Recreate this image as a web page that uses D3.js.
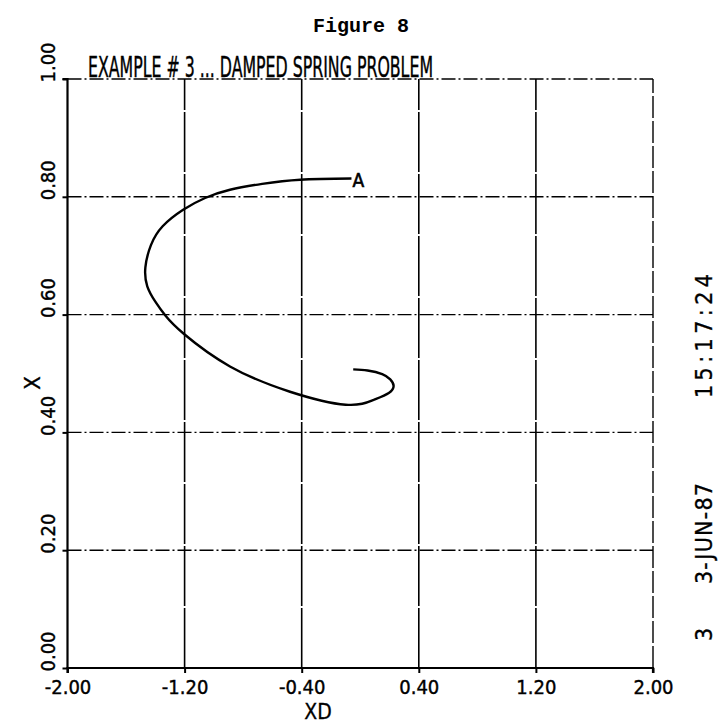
<!DOCTYPE html>
<html>
<head>
<meta charset="utf-8">
<script src="https://cdn.jsdelivr.net/npm/d3@7"></script>
<style>
  body { margin: 0; background: #fff; }
  text { fill: #000; }
</style>
</head>
<body>
<div id="chart"></div>
<script>
const width = 719;
const height = 725;

// ticks on both axes
const xdTicks = [-2.0, -1.2, -0.4, 0.4, 1.2, 2.0];
const xdTickLabels = ["-2.00", "-1.20", "-0.40", "0.40", "1.20", "2.00"];
const xTicks = [0.0, 0.2, 0.4, 0.6, 0.8, 1.0];
const xTickLabels = ["0.00", "0.20", "0.40", "0.60", "0.80", "1.00"];

// phase path: XD (velocity), X (position), starting at A
const pathXD = [-0.06, -0.41, -0.67, -0.89, -1.06, -1.21, -1.35, -1.43, -1.468, -1.455, -1.40, -1.33, -1.204, -0.89, -0.48, -0.10, 0.09, 0.195, 0.228, 0.205, 0.15, 0.05, -0.048];
const pathX  = [0.831, 0.829, 0.822, 0.812, 0.798, 0.778, 0.750, 0.718, 0.680, 0.648, 0.622, 0.598, 0.567, 0.512, 0.469, 0.447, 0.455, 0.467, 0.479, 0.490, 0.499, 0.505, 0.507];

const title = "EXAMPLE # 3 ... DAMPED SPRING PROBLEM";
const stamp = ["3", "3-JUN-87", "15:17:24"];

const x = d3.scaleLinear().domain([-2, 2]).range([67.5, 653]);
const y = d3.scaleLinear().domain([0, 1]).range([668, 79]);

const svg = d3.select("#chart").append("svg")
  .attr("width", width)
  .attr("height", height);

const plotFont = "'DejaVu Sans Condensed', 'DejaVu Sans', sans-serif";

// pen-plotter look: a hairline stroke on the glyphs
function pen(sel, w) {
  sel.style("font-family", plotFont)
    .attr("stroke", "#000")
    .attr("stroke-width", w);
}

svg.append("text")
  .attr("x", 361).attr("y", 32)
  .attr("text-anchor", "middle")
  .style("font-family", "'Liberation Mono', 'DejaVu Sans Mono', monospace")
  .style("font-weight", "bold")
  .style("font-size", "20px")
  .text("Figure 8");

svg.append("text")
  .attr("x", 88).attr("y", 77)
  .attr("textLength", 345)
  .attr("lengthAdjust", "spacingAndGlyphs")
  .style("font-size", "28px")
  .call(pen, 0.4)
  .text(title);

// grid: horizontal dash-dot, vertical nearly solid
const grid = svg.append("g").attr("stroke", "#000").attr("fill", "none");
grid.selectAll("line.h")
  .data(xTicks.slice(1))
  .enter().append("line")
    .attr("class", "h")
    .attr("x1", x(-2)).attr("x2", x(2))
    .attr("y1", d => y(d)).attr("y2", d => y(d))
    .attr("stroke-width", 1.4)
    .attr("stroke-dasharray", "14 3 2 3");
grid.selectAll("line.v")
  .data(xdTicks.slice(1, -1))
  .enter().append("line")
    .attr("class", "v")
    .attr("x1", d => x(d)).attr("x2", d => x(d))
    .attr("y1", y(0)).attr("y2", y(1))
    .attr("stroke-width", 1.6)
    .attr("stroke-dasharray", "60 2");
grid.append("line")
  .attr("x1", x(2)).attr("x2", x(2))
  .attr("y1", y(0)).attr("y2", y(1))
  .attr("stroke-width", 1.4)
  .attr("stroke-dasharray", "22 3");

// axes
const xAxis = d3.axisBottom(x).tickValues(xdTicks).tickSize(5).tickFormat((d, i) => xdTickLabels[i]);
const gx = svg.append("g").attr("transform", `translate(0,${y(0)})`).call(xAxis);
gx.select(".domain").attr("stroke-width", 2.2).attr("d", `M${x(-2)},5V0H${x(2)}V5`);
gx.selectAll(".tick line").attr("stroke-width", 2);
gx.selectAll(".tick text")
  .attr("y", 12).attr("dy", "0.71em")
  .style("font-size", "20px")
  .call(pen, 0.4);

const yAxis = d3.axisLeft(y).tickValues(xTicks).tickSize(5).tickFormat((d, i) => xTickLabels[i]);
const gy = svg.append("g").attr("transform", `translate(${x(-2)},0)`).call(yAxis);
gy.select(".domain").attr("stroke-width", 2.2).attr("d", `M-5,${y(1)}H0V${y(0)}`);
gy.selectAll(".tick line").attr("stroke-width", 2);
gy.selectAll(".tick text")
  .attr("x", null).attr("dy", null)
  .attr("text-anchor", "start")
  .attr("transform", "translate(-13,3) rotate(-90)")
  .style("font-size", "20px")
  .call(pen, 0.4);

svg.append("text")
  .attr("x", 318).attr("y", 719)
  .attr("text-anchor", "middle")
  .style("font-size", "21px")
  .call(pen, 0.3)
  .text("XD");

svg.append("text")
  .attr("transform", "translate(40,383) rotate(-90)")
  .attr("text-anchor", "middle")
  .style("font-size", "22px")
  .call(pen, 0.3)
  .text("X");

// time stamp on the right
const stampY = [641, 584, 398];
const stampLen = [15, 101, 124];
svg.selectAll("text.stamp")
  .data(stamp)
  .enter().append("text")
    .attr("class", "stamp")
    .attr("transform", (d, i) => `translate(712,${stampY[i]}) rotate(-90)`)
    .attr("textLength", (d, i) => stampLen[i])
    .style("font-size", "23px")
    .call(pen, 0.3)
    .text(d => d);

// trajectory
const pts = pathXD.map((d, i) => [d, pathX[i]]);
const line = d3.line()
  .x(d => x(d[0]))
  .y(d => y(d[1]))
  .curve(d3.curveNatural);

svg.append("path")
  .datum(pts)
  .attr("d", line)
  .attr("fill", "none")
  .attr("stroke", "#000")
  .attr("stroke-width", 2.4);

svg.append("text")
  .attr("x", x(pathXD[0]) + 1).attr("y", y(pathX[0]) + 8)
  .style("font-size", "19px")
  .call(pen, 0.6)
  .text("A");
</script>
</body>
</html>
